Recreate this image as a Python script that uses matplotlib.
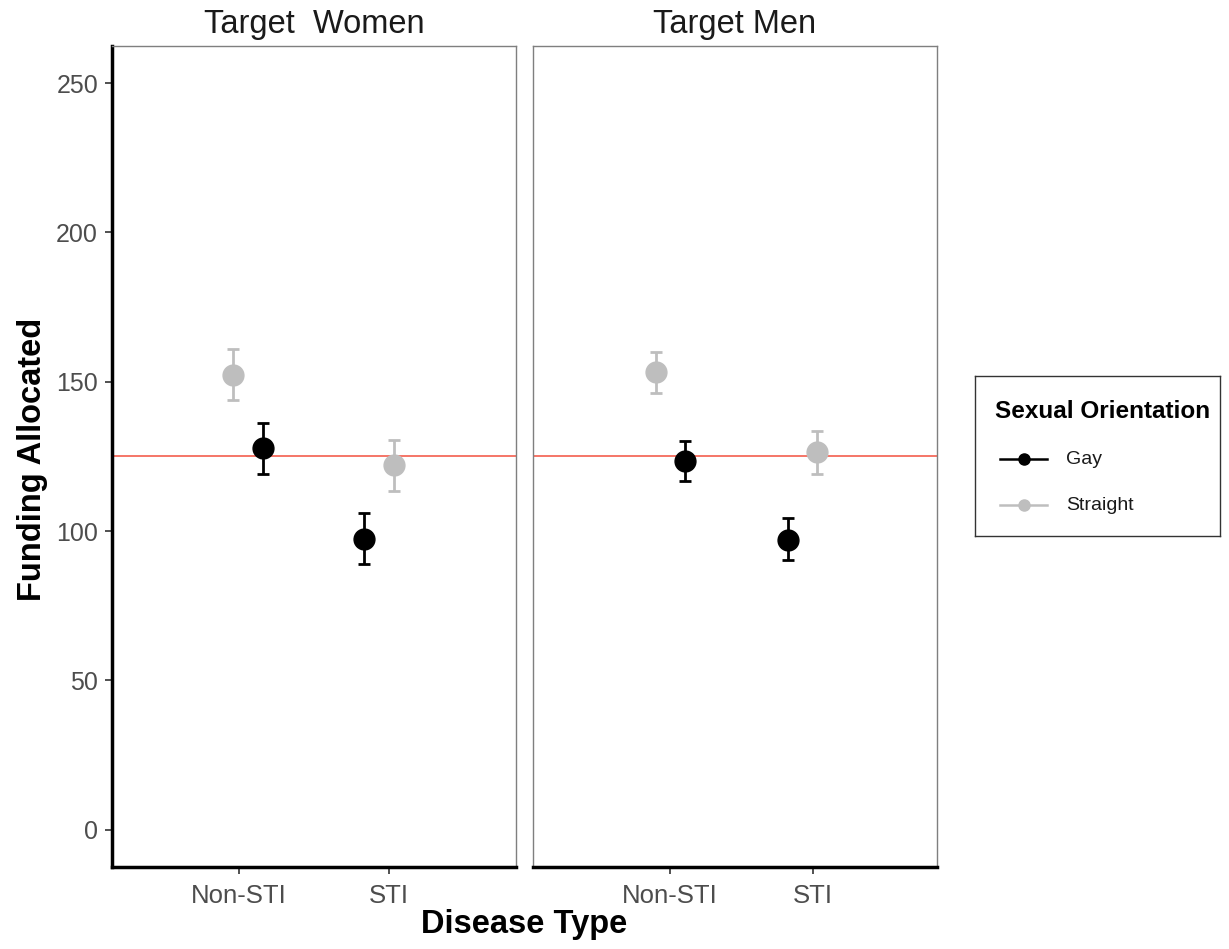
import matplotlib
matplotlib.use("Agg")
import matplotlib.pyplot as plt
from matplotlib.lines import Line2D
import numpy as np

plt.rcParams['font.family'] = ['Liberation Sans', 'DejaVu Sans']

# ---- data ----
panels = ["Target  Women", "Target Men"]
diseases = ["Non-STI", "STI"]
groups = ["Gay", "Straight"]

# means [panel][disease]
gay_mean = [[127.7, 97.3], [123.5, 97.1]]
gay_lo = [[119.1, 89.0], [116.9, 90.2]]
gay_hi = [[136.1, 106.0], [130.3, 104.2]]

straight_mean = [[152.2, 122.1], [153.2, 126.3]]
straight_lo = [[143.9, 113.4], [146.1, 119.1]]
straight_hi = [[160.8, 130.5], [160.1, 133.5]]

reference_line = 125
y_ticks = [0, 50, 100, 150, 200, 250]

# ---- style / layout ----
colors = {"Gay": "black", "Straight": "#BEBEBE"}
W, H = 1229, 949
fig = plt.figure(figsize=(W / 100, H / 100), dpi=100)

def ax_rect(x0, y0, x1, y1):
    return [x0 / W, 1 - y1 / H, (x1 - x0) / W, (y1 - y0) / H]

axes = [fig.add_axes(ax_rect(112, 46, 516, 867)),
        fig.add_axes(ax_rect(533, 46, 937, 867))]
xlims = [(0.155, 2.843), (0.044, 2.863)]
centres = [[1.062, 1.93], [1.003, 1.925]]
half = 0.1
# dodge direction per disease for each group
dodge = {"Gay": [1, -1], "Straight": [-1, 1]}

for p, ax in enumerate(axes):
    ax.set_xlim(*xlims[p])
    ax.set_ylim(-12.5, 262.4)
    ax.axhline(reference_line, color="#F2503F", lw=1.1, zorder=1)
    for g, means, lo, hi in [("Straight", straight_mean, straight_lo, straight_hi),
                             ("Gay", gay_mean, gay_lo, gay_hi)]:
        m = np.array(means[p])
        l = np.array(lo[p])
        h = np.array(hi[p])
        xs = np.array(centres[p]) + half * np.array(dodge[g])
        ax.errorbar(xs, m, yerr=[m - l, h - m], fmt="o", color=colors[g],
                    ms=15, elinewidth=2.0, capsize=4.0, capthick=2.0, zorder=3)
    ax.set_xticks([1, 2])
    ax.set_xticklabels(diseases, fontsize=18.5, color="#4D4D4D")
    ax.set_yticks(y_ticks)
    ax.tick_params(axis="both", length=5, width=1.2, color="#333333")
    ax.tick_params(axis="x", pad=7)
    ax.tick_params(axis="y", labelsize=18, labelcolor="#4D4D4D", pad=5)
    for s in ["top", "right"]:
        ax.spines[s].set_color("#7F7F7F")
        ax.spines[s].set_linewidth(1.0)
    ax.spines["bottom"].set_color("black")
    ax.spines["bottom"].set_linewidth(2.5)
    if p == 0:
        ax.spines["left"].set_color("black")
        ax.spines["left"].set_linewidth(2.5)
    else:
        ax.spines["left"].set_color("#7F7F7F")
        ax.spines["left"].set_linewidth(1.0)
        ax.tick_params(axis="y", left=False, labelleft=False)
    ax.set_title(panels[p], fontsize=23.5, color="#1A1A1A", pad=9)

fig.text(33 / W, 1 - 459 / H, "Funding Allocated", rotation=90, fontsize=23.5,
         fontweight="bold", ha="center", va="center")
fig.text(524 / W, 1 - 925 / H, "Disease Type", fontsize=23.5,
         fontweight="bold", ha="center", va="center")

# ---- legend ----
lax = fig.add_axes(ax_rect(975, 376, 1220, 536))
lax.set_xlim(975, 1220)
lax.set_ylim(536, 376)
lax.set_xticks([])
lax.set_yticks([])
for s in lax.spines.values():
    s.set_color("#333333")
    s.set_linewidth(1.0)
lax.text(995, 412, "Sexual Orientation", fontsize=17.5, fontweight="bold",
         va="center", ha="left")
for g, yy in zip(groups, [459, 505]):
    lax.add_line(Line2D([1000, 1047], [yy, yy], color=colors[g], lw=1.8))
    lax.plot([1023.5], [yy], "o", color=colors[g], ms=8)
    lax.text(1066, yy, g, fontsize=14, va="center", ha="left", color="#1A1A1A")

fig.savefig("out.png", dpi=100)
